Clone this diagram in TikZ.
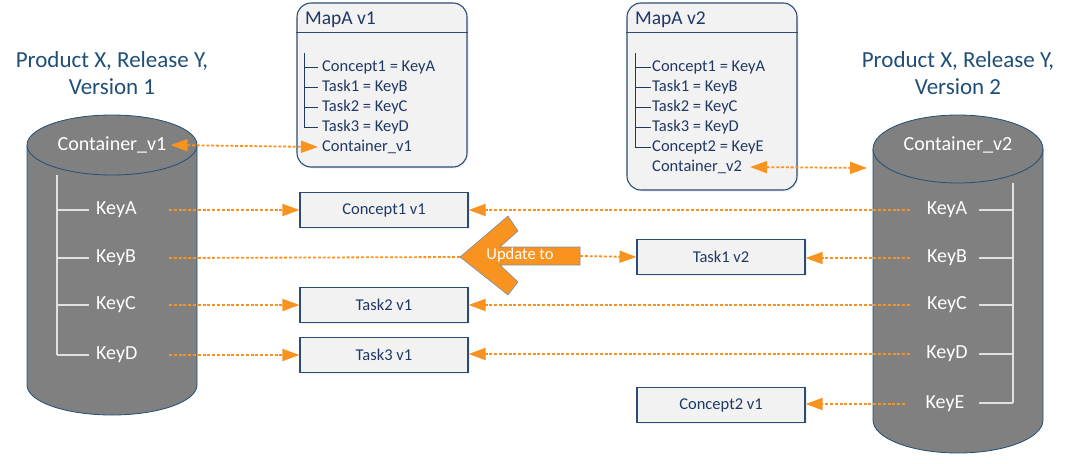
\documentclass[tikz,border=0pt]{standalone}
\usepackage{fontspec}
\setmainfont{Carlito}
\usetikzlibrary{arrows.meta,shadows}
\definecolor{navy}{HTML}{1F3864}
\definecolor{headblue}{HTML}{1F4E79}
\definecolor{edgeblue}{HTML}{2B4D75}
\definecolor{boxfill}{HTML}{F2F2F2}
\definecolor{cylgray}{HTML}{808080}
\definecolor{orng}{HTML}{F7931E}
\definecolor{arrowedge}{HTML}{7F8FA6}
\begin{document}
\begin{tikzpicture}[x=1pt,y=1pt,
  keylbl/.style={text=white, font=\fontsize{20}{24}\selectfont, inner sep=0pt},
  cyltext/.style={text=white, font=\fontsize{20}{24}\selectfont, inner sep=2pt},
  item/.style={text=navy, font=\fontsize{16.5}{20}\selectfont, anchor=west, inner sep=0pt},
  maptitle/.style={text=navy, font=\fontsize{19.5}{23}\selectfont, anchor=west, inner sep=0pt},
  heading/.style={text=headblue, font=\fontsize{23}{27}\selectfont, align=center},
  vbox/.style={draw=edgeblue, fill=boxfill, line width=1.1pt, minimum width=168pt, minimum height=35pt,
    text=navy, font=\fontsize{16.5}{20}\selectfont,
    drop shadow={opacity=0.12, shadow xshift=1.5pt, shadow yshift=-1.5pt}},
  mapbox/.style={draw=edgeblue, fill=boxfill, line width=1.1pt, rounded corners=14pt, minimum width=170pt, inner sep=0pt,
    drop shadow={opacity=0.12, shadow xshift=1.5pt, shadow yshift=-1.5pt}},
  cylborder/.style={draw=headblue, line width=0.8pt},
  cyltree/.style={draw=white!88!black, line width=1.5pt},
  maptree/.style={draw=navy, line width=0.8pt},
  link/.style={draw=orng, line width=1.8pt, dash pattern=on 3pt off 1.8pt},
  tipend/.style={-{Triangle[length=17pt,width=12pt]}},
  tipboth/.style={{Triangle[length=17pt,width=12pt]}-{Triangle[length=17pt,width=12pt]}}
]
\useasboundingbox (0,0) rectangle (1075,-463);

% ---------- headings ----------
\node[heading] (h1) at (112,-73) {Product X, Release Y,\\Version 1};
\node[heading] (h2) at (958,-73) {Product X, Release Y,\\Version 2};

% ---------- left cylinder ----------
\fill[cylgray] (27,-145) -- (27,-385) arc[start angle=180,end angle=360,x radius=85pt,y radius=30pt] -- (197,-145) -- cycle;
\draw[cylborder] (27,-145) -- (27,-385) arc[start angle=180,end angle=360,x radius=85pt,y radius=30pt] -- (197,-145);
\draw[cylborder, fill=cylgray] (112,-145) ellipse[x radius=85pt, y radius=30pt];
\node[cyltext] (cv1) at (112,-145) {Container\_v1};
\draw[cyltree] (57,-175) -- (57,-355);
\foreach \yy in {210,258,305,355} \draw[cyltree] (57,-\yy) -- (89,-\yy);
\node[keylbl, anchor=west] (lkA) at (96,-210) {KeyA};
\node[keylbl, anchor=west] (lkB) at (96,-258) {KeyB};
\node[keylbl, anchor=west] (lkC) at (96,-305) {KeyC};
\node[keylbl, anchor=west] (lkD) at (96,-355) {KeyD};

% ---------- right cylinder ----------
\fill[cylgray] (873,-149) -- (873,-420) arc[start angle=180,end angle=360,x radius=85pt,y radius=33pt] -- (1043,-149) -- cycle;
\draw[cylborder] (873,-149) -- (873,-420) arc[start angle=180,end angle=360,x radius=85pt,y radius=33pt] -- (1043,-149);
\draw[cylborder, fill=cylgray] (958,-149) ellipse[x radius=85pt, y radius=34pt];
\node[cyltext] (cv2) at (958,-145) {Container\_v2};
\draw[cyltree] (1013,-183) -- (1013,-403);
\foreach \yy in {210,258,305,354,403} \draw[cyltree] (979,-\yy) -- (1013,-\yy);
\node[keylbl] (rkA) at (947,-210) {KeyA};
\node[keylbl] (rkB) at (947,-258) {KeyB};
\node[keylbl] (rkC) at (947,-305) {KeyC};
\node[keylbl] (rkD) at (947,-354) {KeyD};
\node[keylbl] (rkE) at (945,-404) {KeyE};

% ---------- MapA v1 ----------
\node[mapbox, minimum height=164pt] (map1) at (382,-85) {};
\draw[draw=edgeblue, line width=1.1pt] ([yshift=-30pt]map1.north west) -- ([yshift=-30pt]map1.north east);
\node[maptitle] (m1t) at (305,-20) {MapA v1};
\draw[maptree] (304,-53) -- (304,-127);
\foreach \yy in {67,87,107,127} \draw[maptree] (304,-\yy) -- (318,-\yy);
\node[item] (m1a) at (322,-67) {Concept1 = KeyA};
\node[item] (m1b) at (322,-87) {Task1 = KeyB};
\node[item] (m1c) at (322,-107) {Task2 = KeyC};
\node[item] (m1d) at (322,-127) {Task3 = KeyD};
\node[item] (m1k) at (322,-147) {Container\_v1};

% ---------- MapA v2 ----------
\node[mapbox, minimum height=187pt] (map2) at (712,-96.5) {};
\draw[draw=edgeblue, line width=1.1pt] ([yshift=-30pt]map2.north west) -- ([yshift=-30pt]map2.north east);
\node[maptitle] (m2t) at (635,-20) {MapA v2};
\draw[maptree] (635,-53) -- (635,-147);
\foreach \yy in {67,87,107,127,147} \draw[maptree] (635,-\yy) -- (651,-\yy);
\node[item] (m2a) at (652,-67) {Concept1 = KeyA};
\node[item] (m2b) at (652,-87) {Task1 = KeyB};
\node[item] (m2c) at (652,-107) {Task2 = KeyC};
\node[item] (m2d) at (652,-127) {Task3 = KeyD};
\node[item] (m2e) at (652,-147) {Concept2 = KeyE};
\node[item] (m2k) at (652,-167) {Container\_v2};

% ---------- version boxes ----------
\node[vbox] (c1v1) at (384,-210) {Concept1 v1};
\node[vbox] (t2v1) at (384,-305) {Task2 v1};
\node[vbox] (t3v1) at (384,-355) {Task3 v1};
\node[vbox] (t1v2) at (721,-257) {Task1 v2};
\node[vbox] (c2v1) at (721,-405) {Concept2 v1};

% ---------- update arrow ----------
\coordinate (updtip) at (460,-257);
\coordinate (updtail) at (580,-256);
\fill[orng, draw=arrowedge, line width=0.6pt, line join=miter]
  (updtip) -- (508,-216) -- (518,-231) -- (500,-247) -- (580,-247) -- (580,-265)
  -- (500,-265) -- (518,-282) -- (508,-295) -- cycle;
\node[text=white, font=\fontsize{16.5}{20}\selectfont, inner sep=0pt] (upd) at (520,-255) {Update to};

% ---------- connectors ----------
\coordinate (lx) at (169,0);
\coordinate (rx) at (910,0);
\coordinate (rxe) at (905,0);
\coordinate (cyl2port) at (867,-168);

\draw[link, tipboth] ([xshift=2pt]cv1.east) -- ([xshift=-4pt]m1k.west);
\draw[link, tipboth] ([xshift=8pt]m2k.east) -- (cyl2port);

\draw[link, tipend] (lkA -| lx) -- (c1v1.west);
\draw[link] (lkB -| lx) -- (updtip);
\draw[link, tipend] (updtail) -- (t1v2.west);
\draw[link, tipend] (lkC -| lx) -- (t2v1.west);
\draw[link, tipend] (lkD -| lx) -- (t3v1.west);

\draw[link, tipend] (rkA -| rx) -- (c1v1.east);
\draw[link, tipend] (rkB -| rx) -- (t1v2.east |- rkB);
\draw[link, tipend] (rkC -| rx) -- (t2v1.east);
\draw[link, tipend] (rkD -| rx) -- (t3v1.east |- rkD);
\draw[link, tipend] (rkE -| rxe) -- (c2v1.east |- rkE);
\end{tikzpicture}
\end{document}
